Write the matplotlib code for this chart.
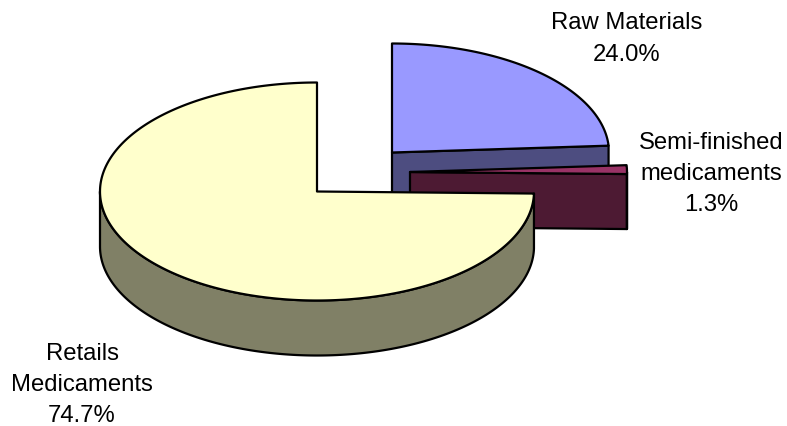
import numpy as np
import matplotlib
matplotlib.use('Agg')
import matplotlib.pyplot as plt
from matplotlib.patches import Polygon

plt.rcParams['font.family'] = ['Liberation Sans', 'DejaVu Sans']

# 各部分占比(%)
names = ['Raw Materials', 'Semi-finished\nmedicaments', 'Retails\nMedicaments']
values = [24.0, 1.3, 74.7]
top_colors = ['#9999ff', '#993366', '#ffffcc']
side_colors = ['#4d4d80', '#4d1a33', '#808066']

# 每块饼的圆心(像素坐标),分离式饼图
centers = [(392, 153.5), (410, 173), (317, 192.5)]
label_pos = [(626.5, 39), (711, 174), (82, 385)]
rx, ry = 217, 109
depth = 55
lw = 1.6

fig = plt.figure(figsize=(7.87, 4.27), dpi=100)
ax = fig.add_axes([0, 0, 1, 1])
ax.set_xlim(0, 787)
ax.set_ylim(427, 0)
ax.axis('off')


def rim(c, a0, a1):
    # 从12点方向顺时针取椭圆弧上的点
    t = np.radians(np.linspace(a0, a1, max(int(abs(a1 - a0)) * 2, 2)))
    return np.column_stack([c[0] + rx * np.sin(t), c[1] - ry * np.cos(t)])


def face(pts, color, zorder):
    ax.add_patch(Polygon(pts, closed=True, facecolor=color, edgecolor='black',
                         linewidth=lw, joinstyle='round', zorder=zorder))


start = 0.0
for i, v in enumerate(values):
    end = start + v * 3.6
    c = centers[i]
    z = i * 3 + 1
    # 切面朝下时才画侧壁
    if np.sin(np.radians(end)) > 1e-6 and end < 360:
        p = rim(c, end, end)[0]
        face([c, p, (p[0], p[1] + depth), (c[0], c[1] + depth)], side_colors[i], z)
    # 外圈侧壁,只有下半圈看得见
    a0, a1 = max(start, 90), min(end, 270)
    if a1 > a0:
        arc = rim(c, a0, a1)
        face(np.vstack([arc, arc[::-1] + [0, depth]]), side_colors[i], z + 1)
    # 顶面
    face(np.vstack([[c], rim(c, start, end)]), top_colors[i], z + 2)
    start = end

for name, v, pos in zip(names, values, label_pos):
    ax.text(pos[0], pos[1], '%s\n%.1f%%' % (name, v), ha='center', va='center',
            fontsize=17.2, linespacing=1.53, color='black', zorder=20)

fig.savefig('out.png', dpi=100)
